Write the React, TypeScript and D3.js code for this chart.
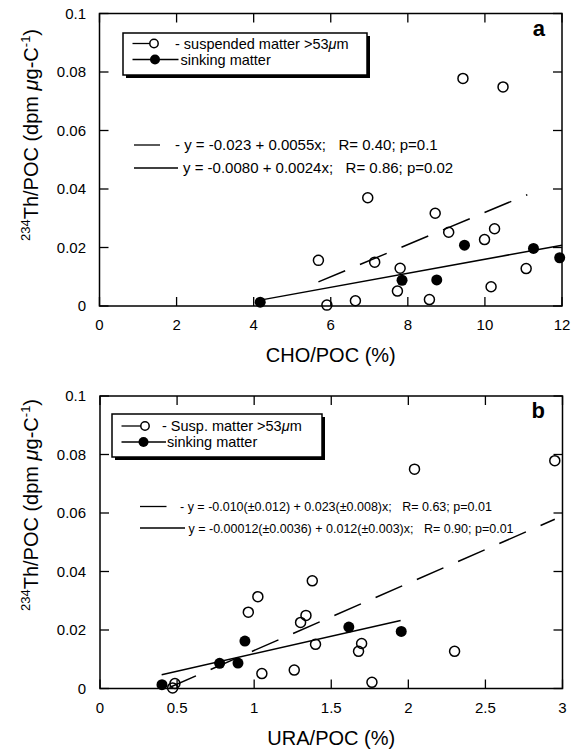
import React from "react";
import * as d3 from "d3";

// ---------- data ----------
const aSuspX = [9.43, 10.47, 6.96, 8.71, 9.06, 10.25, 9.99, 5.68, 7.14, 7.8, 7.73, 11.07, 10.16, 5.9, 6.64, 8.56];
const aSuspY = [0.0778, 0.0749, 0.037, 0.0317, 0.0252, 0.0264, 0.0227, 0.0156, 0.015, 0.0129, 0.0051, 0.0128, 0.0066, 0.0003, 0.0018, 0.0022];
const aSinkX = [4.17, 7.85, 8.75, 9.47, 11.26, 11.94];
const aSinkY = [0.0013, 0.0088, 0.0089, 0.0208, 0.0197, 0.0165];

const bSuspX = [2.95, 2.04, 1.377, 1.024, 0.962, 1.336, 1.301, 1.398, 1.697, 1.677, 2.3, 1.05, 1.26, 1.764, 0.486, 0.471];
const bSuspY = [0.0779, 0.075, 0.0368, 0.0314, 0.0261, 0.025, 0.0226, 0.0151, 0.0154, 0.0127, 0.0127, 0.0051, 0.0063, 0.0021, 0.0017, 0.0002];
const bSinkX = [0.402, 0.776, 0.895, 0.94, 1.614, 1.954];
const bSinkY = [0.0013, 0.0086, 0.0087, 0.0162, 0.021, 0.0195];

// fits: [intercept, slope, xStart, xEnd]
const aSuspFit = [-0.023, 0.0055, 5.68, 11.1];
const aSinkFit = [-0.008, 0.0024, 4.17, 12];
const bSuspFit = [-0.01, 0.023, 0.45, 2.95];
const bSinkFit = [-0.00012, 0.012, 0.4, 1.95];

const aXTicks = [0, 2, 4, 6, 8, 10, 12];
const bXTicks = [0, 0.5, 1, 1.5, 2, 2.5, 3];
const yTicks = [0, 0.02, 0.04, 0.06, 0.08, 0.1];

const aLegend = ["- suspended matter >53", "sinking matter"];
const bLegend = ["- Susp. matter >53", "sinking matter"];
const aEq = ["- y = -0.023 + 0.0055x;   R= 0.40; p=0.1", "y = -0.0080 + 0.0024x;   R= 0.86; p=0.02"];
const bEq = [
  "- y = -0.010(\u00b10.012) + 0.023(\u00b10.008)x;   R= 0.63; p=0.01",
  "y = -0.00012(\u00b10.0036) + 0.012(\u00b10.003)x;   R= 0.90; p=0.01",
];

const FONT = "'Liberation Sans', Arial, Helvetica, sans-serif";

type PanelProps = {
  left: number; right: number; top: number; bottom: number;
  xMax: number; xTicks: number[];
  suspX: number[]; suspY: number[]; sinkX: number[]; sinkY: number[];
  suspFit: number[]; sinkFit: number[];
  letter: string; xTitle: string;
  legend: string[]; legendBox: number[]; legendRows: number[]; legendLine: number[];
  legendText: number[]; legendFont: number;
  eq: string[]; eqRows: number[]; eqLine: number[]; eqText: number[]; eqFont: number;
  yLabelCenter: number;
};

function Panel(p: PanelProps) {
  const x = d3.scaleLinear().domain([0, p.xMax]).range([p.left, p.right]);
  const y = d3.scaleLinear().domain([0, 0.1]).range([p.bottom, p.top]);
  const fitPath = (f: number[]) => {
    const pts: [number, number][] = [f[2], f[3]].map((v) => [x(v), y(f[0] + f[1] * v)] as [number, number]);
    return d3.line()(pts) || "";
  };
  const tl = 9;
  const [bx, by, bw, bh] = p.legendBox;
  return (
    <g fontFamily={FONT}>
      {/* frame */}
      <rect x={p.left} y={p.top} width={p.right - p.left} height={p.bottom - p.top} fill="none" stroke="#000" strokeWidth={1.5} />
      {p.xTicks.map((t, i) => (
        <g key={"xt" + i}>
          <line x1={x(t)} x2={x(t)} y1={p.bottom} y2={p.bottom - tl} stroke="#000" strokeWidth={1.3} />
          <line x1={x(t)} x2={x(t)} y1={p.top} y2={p.top + tl} stroke="#000" strokeWidth={1.3} />
          <text x={x(t)} y={p.bottom + 24} fontSize={15} textAnchor="middle">{String(t)}</text>
        </g>
      ))}
      {yTicks.map((t, i) => (
        <g key={"yt" + i}>
          <line x1={p.left} x2={p.left + tl} y1={y(t)} y2={y(t)} stroke="#000" strokeWidth={1.3} />
          <line x1={p.right} x2={p.right - tl} y1={y(t)} y2={y(t)} stroke="#000" strokeWidth={1.3} />
          <text x={86} y={y(t) + 5} fontSize={15} textAnchor="end">{String(t)}</text>
        </g>
      ))}
      {/* axis titles */}
      <text x={(p.left + p.right) / 2} y={p.bottom + 56} fontSize={20} textAnchor="middle">{p.xTitle}</text>
      <text transform={`translate(38,${p.yLabelCenter}) rotate(-90)`} fontSize={20} textAnchor="middle">
        <tspan fontSize={13} dy={-8}>234</tspan>
        <tspan dy={8}>Th/POC (dpm </tspan>
        <tspan fontStyle="italic">{"\u03bc"}</tspan>
        <tspan>g-C</tspan>
        <tspan fontSize={13} dy={-8}>-1</tspan>
        <tspan dy={8}>)</tspan>
      </text>
      {/* letter */}
      <text x={545} y={p.top + 22} fontSize={22} fontWeight="bold" textAnchor="end">{p.letter}</text>
      {/* legend box */}
      <rect x={bx + 3} y={by + 3} width={bw} height={bh} fill="#000" />
      <rect x={bx} y={by} width={bw} height={bh} fill="#fff" stroke="#000" strokeWidth={1.5} />
      <line x1={p.legendLine[0]} x2={p.legendLine[1]} y1={p.legendRows[0]} y2={p.legendRows[0]} stroke="#000" strokeWidth={1.3} />
      <circle cx={p.legendLine[1] + 4} cy={p.legendRows[0]} r={4.2} fill="none" stroke="#000" strokeWidth={1.5} />
      <line x1={p.legendLine[0]} x2={p.legendLine[2]} y1={p.legendRows[1]} y2={p.legendRows[1]} stroke="#000" strokeWidth={1.3} />
      <circle cx={p.legendLine[3]} cy={p.legendRows[1]} r={5} fill="#000" />
      <text x={p.legendText[0]} y={p.legendRows[0] + 5} fontSize={p.legendFont}>
        {p.legend[0]}<tspan fontStyle="italic">{"\u03bc"}</tspan>m
      </text>
      <text x={p.legendText[1]} y={p.legendRows[1] + 5} fontSize={p.legendFont}>{p.legend[1]}</text>
      {/* equations */}
      <line x1={p.eqLine[0]} x2={p.eqLine[1]} y1={p.eqRows[0]} y2={p.eqRows[0]} stroke="#000" strokeWidth={1.3} />
      <line x1={p.eqLine[0]} x2={p.eqLine[2]} y1={p.eqRows[1]} y2={p.eqRows[1]} stroke="#000" strokeWidth={1.3} />
      <text x={p.eqText[0]} y={p.eqRows[0] + p.eqFont * 0.36} fontSize={p.eqFont} style={{ whiteSpace: "pre" }}>{p.eq[0]}</text>
      <text x={p.eqText[1]} y={p.eqRows[1] + p.eqFont * 0.36} fontSize={p.eqFont} style={{ whiteSpace: "pre" }}>{p.eq[1]}</text>
      {/* fit lines */}
      <path d={fitPath(p.suspFit)} fill="none" stroke="#000" strokeWidth={1.5} strokeDasharray="29,16" />
      <path d={fitPath(p.sinkFit)} fill="none" stroke="#000" strokeWidth={1.5} />
      {/* points */}
      {p.suspX.map((v, i) => (
        <circle key={"s" + i} cx={x(v)} cy={y(p.suspY[i])} r={5} fill="none" stroke="#000" strokeWidth={1.5} />
      ))}
      {p.sinkX.map((v, i) => (
        <circle key={"k" + i} cx={x(v)} cy={y(p.sinkY[i])} r={5.5} fill="#000" />
      ))}
    </g>
  );
}

export default function App() {
  return (
    <svg width={571} height={752} viewBox="0 0 571 752" style={{ position: "absolute", left: 0, top: 0, background: "#fff" }}>
      <rect width={571} height={752} fill="#fff" />
      <Panel
        left={99.5} right={562} top={13.5} bottom={306}
        xMax={12} xTicks={aXTicks}
        suspX={aSuspX} suspY={aSuspY} sinkX={aSinkX} sinkY={aSinkY}
        suspFit={aSuspFit} sinkFit={aSinkFit}
        letter="a" xTitle="CHO/POC (%)"
        legend={aLegend} legendBox={[123, 33, 244, 42]} legendRows={[43.5, 59.5]} legendLine={[132.5, 150, 178.5, 155]}
        legendText={[175, 180.5]} legendFont={14.5}
        eq={aEq} eqRows={[145, 168]} eqLine={[134, 160, 178]} eqText={[175, 183]} eqFont={15}
        yLabelCenter={135}
      />
      <Panel
        left={100} right={562.5} top={396} bottom={688.5}
        xMax={3} xTicks={bXTicks}
        suspX={bSuspX} suspY={bSuspY} sinkX={bSinkX} sinkY={bSinkY}
        suspFit={bSuspFit} sinkFit={bSinkFit}
        letter="b" xTitle="URA/POC (%)"
        legend={bLegend} legendBox={[112, 414, 210, 43]} legendRows={[426, 442]} legendLine={[121.5, 141, 166, 143.5]}
        legendText={[162, 167]} legendFont={14.5}
        eq={bEq} eqRows={[506.5, 528]} eqLine={[140, 166.5, 185]} eqText={[180, 188.5]} eqFont={12.5}
        yLabelCenter={505}
      />
    </svg>
  );
}
